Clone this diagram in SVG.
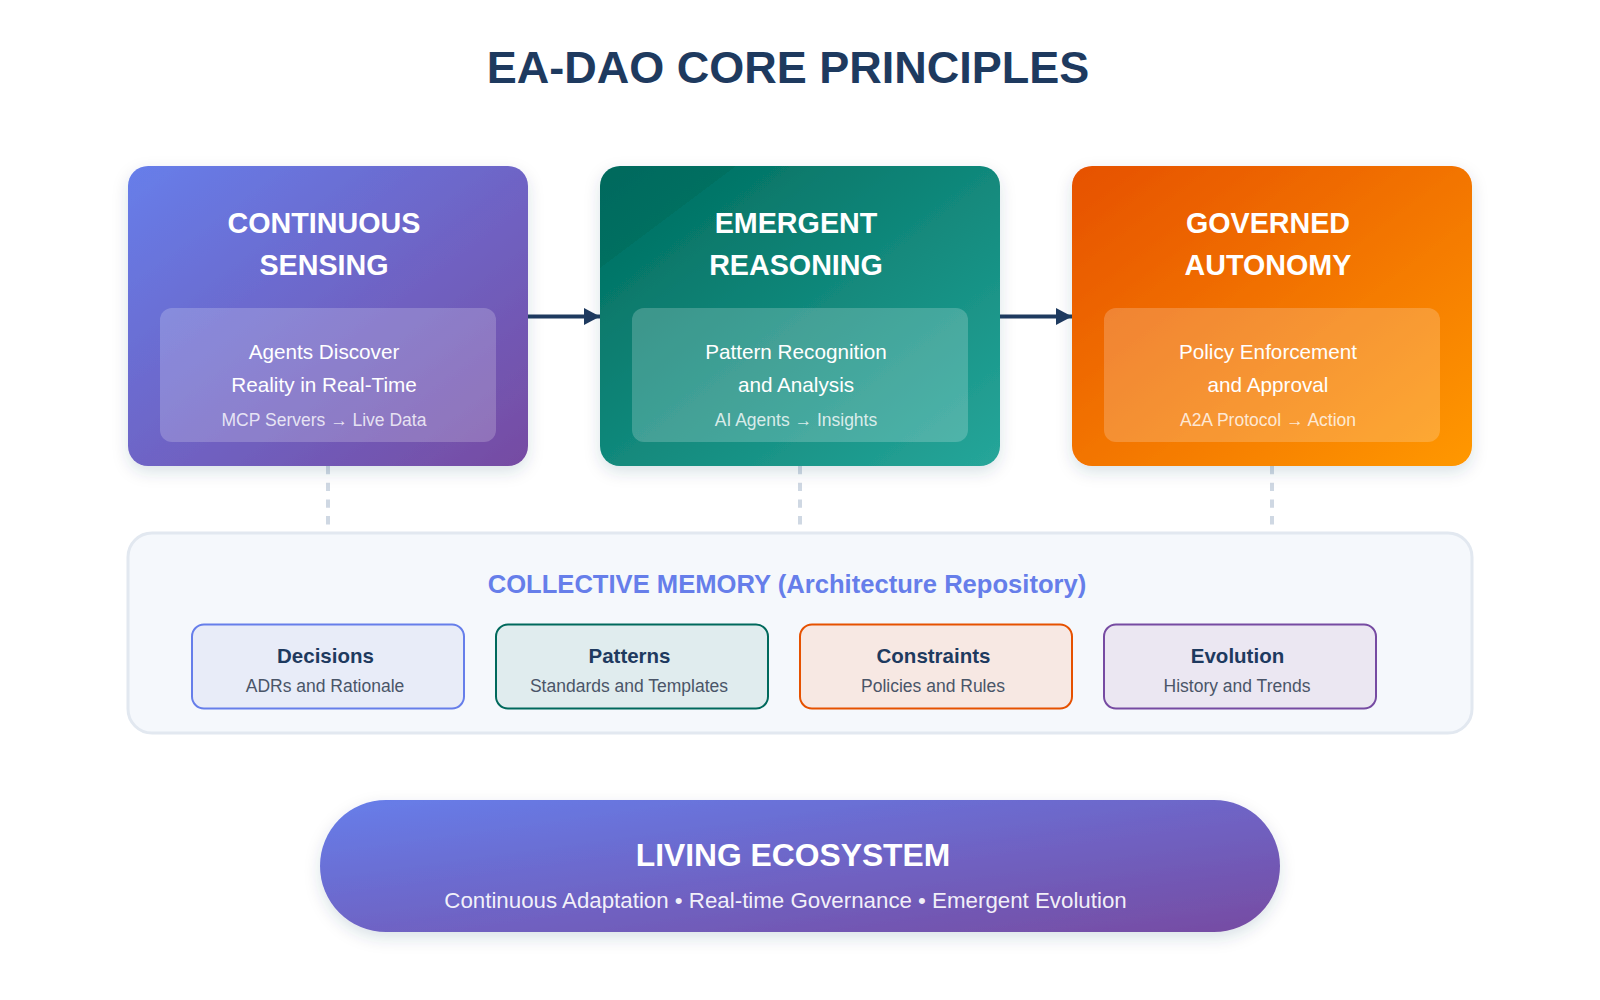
<svg xmlns="http://www.w3.org/2000/svg" width="1600" height="1000" viewBox="0 0 1600 1000">
  <defs>
    <linearGradient id="gPurple" x1="0" y1="0" x2="1" y2="1">
      <stop offset="0" stop-color="#667eea"/>
      <stop offset="1" stop-color="#764ba2"/>
    </linearGradient>
    <linearGradient id="gTeal" x1="0" y1="0" x2="1" y2="1">
      <stop offset="0" stop-color="#00695c"/>
      <stop offset="0.17" stop-color="#006f61"/>
      <stop offset="0.17" stop-color="#047567"/>
      <stop offset="1" stop-color="#26a69a"/>
    </linearGradient>
    <linearGradient id="gOrange" x1="0" y1="0" x2="1" y2="1">
      <stop offset="0" stop-color="#e65100"/>
      <stop offset="1" stop-color="#ff9800"/>
    </linearGradient>
    <filter id="shadow" x="-10%" y="-10%" width="120%" height="130%">
      <feDropShadow dx="0" dy="6" stdDeviation="8" flood-color="#1e3a5f" flood-opacity="0.15"/>
    </filter>
    <marker id="arrow" markerWidth="16" markerHeight="17" refX="16" refY="8.5" orient="auto" markerUnits="userSpaceOnUse">
      <path d="M0,0 L16,8.5 L0,17 Z" fill="#1e3a5f"/>
    </marker>
    <style>
      text { font-family: "Liberation Sans", Arial, sans-serif; text-anchor: middle; }
      .title { font-size: 45px; font-weight: bold; fill: #1e3a5f; }
      .cardTitle { font-size: 28.7px; font-weight: bold; fill: #ffffff; }
      .inner { fill: #ffffff; fill-opacity: 0.2; }
      .innerText { font-size: 20.7px; fill: #ffffff; }
      .innerSmall { font-size: 17.5px; fill: #ffffff; fill-opacity: 0.8; }
      .flow { stroke: #1e3a5f; stroke-width: 4; fill: none; }
      .dash { stroke: #cfd8e3; stroke-width: 4; stroke-dasharray: 8.3 8.4; fill: none; }
      .memHead { font-size: 25.6px; font-weight: bold; fill: #667eea; }
      .memTitle { font-size: 20.5px; font-weight: bold; fill: #1e3a5f; }
      .memSub { font-size: 17.5px; fill: #4a5568; }
      .livTitle { font-size: 31.8px; font-weight: bold; fill: #ffffff; }
      .livSub { font-size: 22.3px; fill: #ffffff; fill-opacity: 0.92; }
    </style>
  </defs>

  <rect width="1600" height="1000" fill="#ffffff"/>

  <text class="title" x="788" y="83">EA-DAO CORE PRINCIPLES</text>

  <g id="connectors">
    <line class="flow" x1="528" y1="316.5" x2="600" y2="316.5" marker-end="url(#arrow)"/>
    <line class="flow" x1="1000" y1="316.5" x2="1072" y2="316.5" marker-end="url(#arrow)"/>
    <line class="dash" x1="328" y1="466" x2="328" y2="532"/>
    <line class="dash" x1="800" y1="466" x2="800" y2="532"/>
    <line class="dash" x1="1272" y1="466" x2="1272" y2="532"/>
  </g>

  <g id="continuous-sensing">
    <rect x="128" y="166" width="400" height="300" rx="20" fill="url(#gPurple)" filter="url(#shadow)"/>
    <text class="cardTitle" x="324" y="233">CONTINUOUS</text>
    <text class="cardTitle" x="324" y="275">SENSING</text>
    <rect class="inner" x="160" y="308" width="336" height="134" rx="12"/>
    <text class="innerText" x="324" y="359">Agents Discover</text>
    <text class="innerText" x="324" y="392">Reality in Real-Time</text>
    <text class="innerSmall" x="324" y="426">MCP Servers → Live Data</text>
  </g>

  <g id="emergent-reasoning">
    <rect x="600" y="166" width="400" height="300" rx="20" fill="url(#gTeal)" filter="url(#shadow)"/>
    <text class="cardTitle" x="796" y="233">EMERGENT</text>
    <text class="cardTitle" x="796" y="275">REASONING</text>
    <rect class="inner" x="632" y="308" width="336" height="134" rx="12"/>
    <text class="innerText" x="796" y="359">Pattern Recognition</text>
    <text class="innerText" x="796" y="392">and Analysis</text>
    <text class="innerSmall" x="796" y="426">AI Agents → Insights</text>
  </g>

  <g id="governed-autonomy">
    <rect x="1072" y="166" width="400" height="300" rx="20" fill="url(#gOrange)" filter="url(#shadow)"/>
    <text class="cardTitle" x="1268" y="233">GOVERNED</text>
    <text class="cardTitle" x="1268" y="275">AUTONOMY</text>
    <rect class="inner" x="1104" y="308" width="336" height="134" rx="12"/>
    <text class="innerText" x="1268" y="359">Policy Enforcement</text>
    <text class="innerText" x="1268" y="392">and Approval</text>
    <text class="innerSmall" x="1268" y="426">A2A Protocol → Action</text>
  </g>

  <g id="collective-memory">
    <rect x="128" y="533" width="1344" height="200" rx="24" fill="#f5f8fc" stroke="#e2e8f0" stroke-width="3"/>
    <text class="memHead" x="787" y="593">COLLECTIVE MEMORY (Architecture Repository)</text>
  </g>

  <g id="decisions">
    <rect x="192" y="624.5" width="272" height="84" rx="12" fill="#e8ecf8" stroke="#667eea" stroke-width="2"/>
    <text class="memTitle" x="325.5" y="663">Decisions</text>
    <text class="memSub" x="325" y="691.5">ADRs and Rationale</text>
  </g>

  <g id="patterns">
    <rect x="496" y="624.5" width="272" height="84" rx="12" fill="#e0ecee" stroke="#00695c" stroke-width="2"/>
    <text class="memTitle" x="629.5" y="663">Patterns</text>
    <text class="memSub" x="629" y="691.5">Standards and Templates</text>
  </g>

  <g id="constraints">
    <rect x="800" y="624.5" width="272" height="84" rx="12" fill="#f7e8e3" stroke="#e65100" stroke-width="2"/>
    <text class="memTitle" x="933.5" y="663">Constraints</text>
    <text class="memSub" x="933" y="691.5">Policies and Rules</text>
  </g>

  <g id="evolution">
    <rect x="1104" y="624.5" width="272" height="84" rx="12" fill="#ebe7f2" stroke="#764ba2" stroke-width="2"/>
    <text class="memTitle" x="1237.5" y="663">Evolution</text>
    <text class="memSub" x="1237" y="691.5">History and Trends</text>
  </g>

  <g id="living-ecosystem">
    <rect x="320" y="800" width="960" height="132" rx="66" fill="url(#gPurple)" filter="url(#shadow)"/>
    <text class="livTitle" x="793" y="866">LIVING ECOSYSTEM</text>
    <text class="livSub" x="785.5" y="908">Continuous Adaptation • Real-time Governance • Emergent Evolution</text>
  </g>
</svg>
